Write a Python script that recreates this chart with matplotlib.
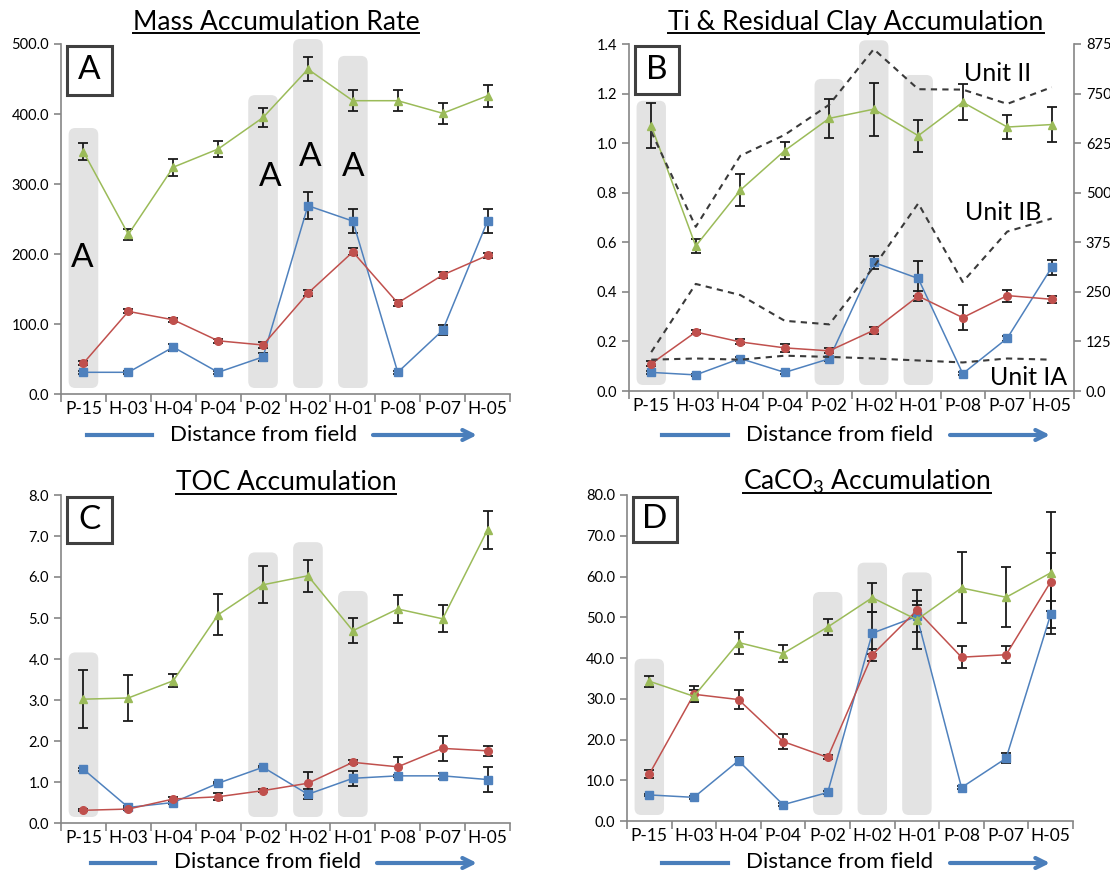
import numpy as np
import matplotlib
matplotlib.use("Agg")
import matplotlib.pyplot as plt
from matplotlib.patches import FancyBboxPatch, Rectangle, FancyArrowPatch
from matplotlib.lines import Line2D
from matplotlib.ticker import FormatStrFormatter

plt.rcParams['font.family'] = ['Lato', 'DejaVu Sans']
plt.rcParams['mathtext.fontset'] = 'custom'
plt.rcParams['mathtext.rm'] = 'Lato'

# sites, ordered by distance from the field
sites = ["P-15", "H-03", "H-04", "P-04", "P-02", "H-02", "H-01", "P-08", "P-07", "H-05"]
shaded = ["P-15", "P-02", "H-02", "H-01"]

# A - mass accumulation rate
mar_blue = [31, 31, 67, 31, 53, 269, 247, 31, 91, 247]
mar_blue_err = [2, 2, 5, 2, 6, 19, 17, 2, 7, 17]
mar_red = [44, 118, 106, 76, 70, 144, 203, 130, 170, 198]
mar_red_err = [3, 3, 3, 3, 4, 4, 5, 4, 4, 4]
mar_green = [346, 228, 324, 350, 395, 464, 419, 419, 401, 426]
mar_green_err = [12, 8, 12, 12, 14, 17, 15, 15, 15, 16]
mar_band_tops = [380, 427, 507, 483]

# B - Ti (left axis) and residual clay (right axis)
ti_blue = [0.075, 0.065, 0.131, 0.075, 0.13, 0.519, 0.454, 0.07, 0.213, 0.499]
ti_blue_err = [0.005, 0.005, 0.008, 0.005, 0.008, 0.025, 0.07, 0.005, 0.01, 0.03]
ti_red = [0.11, 0.238, 0.198, 0.174, 0.162, 0.245, 0.383, 0.296, 0.385, 0.37]
ti_red_err = [0.01, 0.01, 0.01, 0.015, 0.01, 0.015, 0.02, 0.05, 0.024, 0.015]
ti_green = [1.07, 0.585, 0.81, 0.97, 1.10, 1.137, 1.03, 1.165, 1.065, 1.075]
ti_green_err = [0.09, 0.03, 0.065, 0.034, 0.08, 0.107, 0.065, 0.072, 0.05, 0.07]
clay_II = [654, 414, 593, 646, 722, 862, 761, 760, 724, 766]
clay_IB = [98, 270, 242, 177, 168, 313, 473, 275, 402, 435]
clay_IA = [79, 82, 79, 89, 86, 82, 77, 72, 82, 79]
ti_band_tops = [1.171, 1.259, 1.415, 1.275]

# C - TOC accumulation
toc_blue = [1.31, 0.38, 0.50, 0.97, 1.36, 0.70, 1.09, 1.15, 1.15, 1.06]
toc_blue_err = [0.03, 0.03, 0.03, 0.03, 0.03, 0.12, 0.18, 0.03, 0.07, 0.3]
toc_red = [0.31, 0.34, 0.585, 0.64, 0.79, 0.97, 1.48, 1.37, 1.82, 1.76]
toc_red_err = [0.02, 0.03, 0.04, 0.08, 0.03, 0.28, 0.05, 0.23, 0.3, 0.13]
toc_green = [3.02, 3.05, 3.47, 5.08, 5.81, 6.03, 4.69, 5.22, 4.98, 7.15]
toc_green_err = [0.7, 0.57, 0.16, 0.5, 0.45, 0.39, 0.3, 0.35, 0.33, 0.47]
toc_band_tops = [4.16, 6.6, 6.85, 5.66]

# D - CaCO3 accumulation
caco3_blue = [6.4, 5.8, 14.8, 4.0, 7.0, 46.1, 50.2, 8.2, 15.4, 50.7]
caco3_blue_err = [0.3, 0.3, 0.8, 0.3, 0.3, 5.2, 3.7, 0.3, 1.2, 3.3]
caco3_red = [11.5, 31.1, 29.8, 19.5, 15.6, 40.8, 51.7, 40.2, 40.8, 58.7]
caco3_red_err = [1.0, 2.0, 2.4, 1.9, 0.5, 1.5, 1.3, 2.7, 2.1, 7.1]
caco3_green = [34.3, 30.6, 43.8, 41.1, 47.6, 54.8, 49.4, 57.2, 54.9, 60.9]
caco3_green_err = [1.4, 1.5, 2.7, 2.2, 2.0, 3.6, 7.3, 8.7, 7.4, 14.9]
caco3_band_tops = [39.8, 56.2, 63.4, 61.0]

BLUE, RED, GREEN = "#4F81BD", "#C0504D", "#9BBB59"
AXC = "#868686"
W, H = 1110, 872
fig = plt.figure(figsize=(W / 100, H / 100), dpi=100)


def px_rect(l, t, r, b):
    return [l / W, 1 - b / H, (r - l) / W, (b - t) / H]


def make_panel(rect, ymax, ystep, letter, band_tops, series):
    ax = fig.add_axes(px_rect(*rect))
    n = len(sites)
    x = np.arange(n)
    ax.set_xlim(-0.5, n - 0.5)
    ax.set_ylim(0, ymax)
    ax.set_yticks(np.arange(0, ymax + ystep / 2, ystep))
    ax.yaxis.set_major_formatter(FormatStrFormatter("%.1f"))
    ax.set_xticks(np.arange(n + 1) - 0.5)
    ax.set_xticklabels([])
    ax.set_xticks(x, minor=True)
    ax.set_xticklabels(sites, minor=True, fontsize=12.5)
    ax.tick_params(axis='x', which='major', length=6, color=AXC, width=1.2)
    ax.tick_params(axis='x', which='minor', length=0, pad=5)
    ax.tick_params(axis='y', length=5, color=AXC, width=1.2, labelsize=10.5)
    for s in ['top', 'right']:
        ax.spines[s].set_visible(False)
    for s in ['left', 'bottom']:
        ax.spines[s].set_color(AXC)
        ax.spines[s].set_linewidth(1.2)

    # grey shaded sites
    wpx = (rect[2] - rect[0]) / n
    hpx = (rect[3] - rect[1]) / ymax
    aspect = wpx / hpx
    bottom = 6 / hpx
    for site, top in zip(shaded, band_tops):
        i = sites.index(site)
        ax.add_patch(FancyBboxPatch((i - 0.33, bottom), 0.66, top - bottom,
                                    boxstyle="round,pad=0,rounding_size=0.15",
                                    mutation_aspect=aspect, fc="#e3e3e3",
                                    ec="none", zorder=0, clip_on=False))

    for vals, err, col, mk in series:
        ax.errorbar(x, vals, yerr=err, color=col, marker=mk, ms=5.5, lw=1.1,
                    ecolor="#1a1a1a", elinewidth=1.3, capsize=3.8,
                    capthick=1.3, zorder=3)

    ax.add_patch(Rectangle((0.013, 0.855), 0.10, 0.14, transform=ax.transAxes,
                           fc="white", ec="#404040", lw=2.2, zorder=6,
                           clip_on=False))
    ax.text(0.063, 0.925, letter, transform=ax.transAxes, ha='center',
            va='center', fontsize=24, zorder=7)
    return ax


axA = make_panel((61, 44, 510, 394), 500, 100, "A", mar_band_tops,
                 [(mar_blue, mar_blue_err, BLUE, 's'),
                  (mar_red, mar_red_err, RED, 'o'),
                  (mar_green, mar_green_err, GREEN, '^')])
for xi, yv in [(-0.03, 194), (4.17, 310), (5.05, 339), (6.0, 325)]:
    axA.text(xi, yv, "A", ha='center', va='center', fontsize=24, zorder=4)

axB = make_panel((629, 44, 1074, 391), 1.4, 0.2, "B", ti_band_tops,
                 [(ti_blue, ti_blue_err, BLUE, 's'),
                  (ti_red, ti_red_err, RED, 'o'),
                  (ti_green, ti_green_err, GREEN, '^')])
axB2 = axB.twinx()
axB2.set_ylim(0, 875)
axB2.set_yticks(np.arange(0, 876, 125))
axB2.set_yticklabels(["0.0"] + [str(v) for v in range(125, 876, 125)])
axB2.tick_params(axis='y', length=5, color=AXC, width=1.2, labelsize=10.5)
for s in ['top', 'left', 'bottom']:
    axB2.spines[s].set_visible(False)
axB2.spines['right'].set_color(AXC)
axB2.spines['right'].set_linewidth(1.2)
xs = np.arange(len(sites))
for clay in [clay_II, clay_IB, clay_IA]:
    axB2.plot(xs, clay, color="#3a3a3a", lw=1.5, ls=(0, (3, 2.5)), zorder=2)
for label, xi, yv in [("Unit II", 7.79, 1.279), ("Unit IB", 7.9, 0.722),
                      ("Unit IA", 8.47, 0.056)]:
    axB.text(xi, yv, label, ha='center', va='center', fontsize=18)

axC = make_panel((61, 495, 510, 823), 8.0, 1.0, "C", toc_band_tops,
                 [(toc_blue, toc_blue_err, BLUE, 's'),
                  (toc_red, toc_red_err, RED, 'o'),
                  (toc_green, toc_green_err, GREEN, '^')])

axD = make_panel((627, 495, 1073, 821), 80.0, 10.0, "D", caco3_band_tops,
                 [(caco3_blue, caco3_blue_err, BLUE, 's'),
                  (caco3_red, caco3_red_err, RED, 'o'),
                  (caco3_green, caco3_green_err, GREEN, '^')])

# titles, underlined
titles = []
for text, xc, base, uy in [("Mass Accumulation Rate", 276, 30, 33),
                           ("Ti & Residual Clay Accumulation", 856, 30, 33),
                           ("TOC Accumulation", 286, 490, 494),
                           (r"CaCO$_{\mathregular{3}}$ Accumulation", 867, 489, 493)]:
    t = fig.text(xc / W, 1 - base / H, text, ha='center', va='baseline', fontsize=19)
    titles.append((t, uy))

# "Distance from field" arrows
for l1, l2, xt, a1, a2, base, ly in [(87, 152, 264, 373, 477, 441, 435),
                                     (662, 728, 840, 950, 1050, 441, 435),
                                     (91, 155, 268, 377, 477, 868, 863),
                                     (662, 728, 840, 950, 1050, 868, 863)]:
    fig.text(xt / W, 1 - base / H, "Distance from field", ha='center',
             va='baseline', fontsize=16)
    fig.add_artist(Line2D([l1 / W, l2 / W], [1 - ly / H] * 2,
                          transform=fig.transFigure, color="#4A7EBB", lw=3))
    fig.add_artist(FancyArrowPatch((a1 / W, 1 - ly / H), (a2 / W, 1 - ly / H),
                                   transform=fig.transFigure, color="#4A7EBB",
                                   arrowstyle='->', mutation_scale=18, lw=3,
                                   shrinkA=0, shrinkB=0))

fig.canvas.draw()
for t, uy in titles:
    bb = t.get_window_extent()
    fig.add_artist(Line2D([bb.x0 / W, bb.x1 / W], [1 - uy / H] * 2,
                          transform=fig.transFigure, color='black', lw=1.4))

fig.savefig("out.png", dpi=100)
